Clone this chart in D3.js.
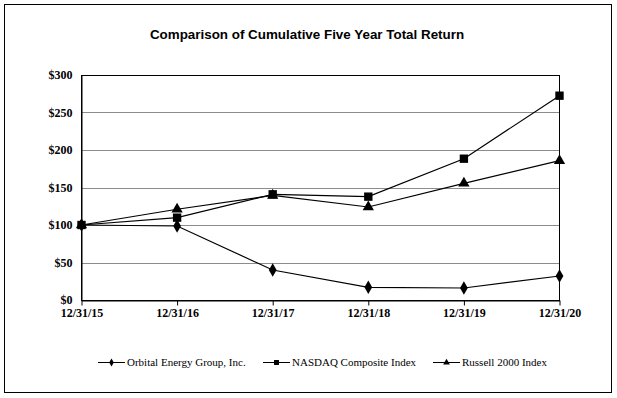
<!DOCTYPE html>
<meta charset="utf-8">
<title>Cumulative Five Year Total Return</title>
<style>
body { margin: 0; background: #fff; }
svg { display: block; }
.grid line { stroke: #8c8c8c; }
</style>
<script src="https://d3js.org/d3.v7.min.js"></script>
<body>
<script>

var width = 617, height = 398;
var serif = "'Liberation Serif', 'Times New Roman', serif";

// data
var dates = ["12/31/15", "12/31/16", "12/31/17", "12/31/18", "12/31/19", "12/31/20"];
var orbital = [100, 98.7, 40, 16.9, 16, 32];
var nasdaq = [100, 109.8, 140.9, 137.8, 188.4, 272.4];
var russell = [100, 121, 139.5, 124, 155.6, 185.8];
var yTicks = [0, 50, 100, 150, 200, 250, 300];

var series = [
  {name: "Orbital Energy Group, Inc.", values: orbital, symbol: d3.symbolDiamond, size: 52},
  {name: "NASDAQ Composite Index", values: nasdaq, symbol: d3.symbolSquare, size: 70},
  {name: "Russell 2000 Index", values: russell, symbol: d3.symbolTriangle, size: 55}
];

var svg = d3.select("body").append("svg")
    .attr("width", width)
    .attr("height", height);

// outer frame
svg.append("rect")
    .attr("x", 4.5).attr("y", 4.5)
    .attr("width", 607).attr("height", 388)
    .attr("fill", "none").attr("stroke", "#000");

svg.append("text")
    .attr("x", 307)
    .attr("y", 39)
    .attr("text-anchor", "middle")
    .style("font-family", "'Liberation Sans', Arial, sans-serif")
    .style("font-weight", "bold")
    .style("font-size", "13.4px")
    .text("Comparison of Cumulative Five Year Total Return");

var x = d3.scalePoint().domain(dates).range([81.5, 559.5]);
var y = d3.scaleLinear().domain([0, 300]).range([300, 75]);

// gridlines
svg.append("g")
    .attr("class", "grid")
    .selectAll("line")
    .data(yTicks.slice(1, -1))
  .enter().append("line")
    .attr("x1", x.range()[0]).attr("x2", x.range()[1])
    .attr("y1", function(d) { return Math.round(y(d)) + 0.5; })
    .attr("y2", function(d) { return Math.round(y(d)) + 0.5; });

// plot frame
svg.append("rect")
    .attr("x", x.range()[0]).attr("y", y(300) + 0.5)
    .attr("width", x.range()[1] - x.range()[0])
    .attr("height", y(0) - y(300))
    .attr("fill", "none").attr("stroke", "#000");

var yAxis = svg.append("g")
    .attr("transform", "translate(" + x.range()[0] + ",0)")
    .call(d3.axisLeft(y).tickValues(yTicks).tickSize(0).tickPadding(9)
      .tickFormat(function(d) { return "$" + d; }));
yAxis.select(".domain").attr("stroke", "#000");

var xAxis = svg.append("g")
    .attr("transform", "translate(0," + (y(0) + 0.5) + ")")
    .call(d3.axisBottom(x).tickSize(5).tickPadding(3).tickSizeOuter(0));
xAxis.select(".domain").attr("stroke", "#000");
xAxis.selectAll(".tick line").attr("stroke", "#000");

svg.selectAll(".tick text")
    .style("font-family", serif)
    .style("font-weight", "bold")
    .style("font-size", "12px")
    .attr("fill", "#000");

var line = d3.line()
    .x(function(d, i) { return x(dates[i]); })
    .y(function(d) { return y(d); });

var groups = svg.selectAll(".series")
    .data(series)
  .enter().append("g")
    .attr("class", "series");

groups.append("path")
    .attr("d", function(d) { return line(d.values); })
    .attr("fill", "none")
    .attr("stroke", "#000")
    .attr("stroke-width", 1.2);

groups.each(function(s) {
  d3.select(this).selectAll("path.mark")
      .data(s.values)
    .enter().append("path")
      .attr("class", "mark")
      .attr("transform", function(d, i) { return "translate(" + x(dates[i]) + "," + y(d) + ")"; })
      .attr("d", d3.symbol().type(s.symbol).size(s.size))
      .attr("fill", "#000");
});

// legend
var legendX = [98, 263, 433];
var legend = svg.selectAll(".legend")
    .data(series)
  .enter().append("g")
    .attr("class", "legend")
    .attr("transform", function(d, i) { return "translate(" + legendX[i] + ",362.5)"; });

legend.append("line")
    .attr("x1", 0).attr("x2", 27)
    .attr("stroke", "#000");

legend.append("path")
    .attr("transform", "translate(13.5,0)")
    .attr("d", function(d) { return d3.symbol().type(d.symbol).size(d.size * 0.35)(); })
    .attr("fill", "#000");

legend.append("text")
    .attr("x", 29)
    .attr("dy", "0.35em")
    .style("font-family", serif)
    .style("font-size", "11px")
    .text(function(d) { return d.name; });

</script>
